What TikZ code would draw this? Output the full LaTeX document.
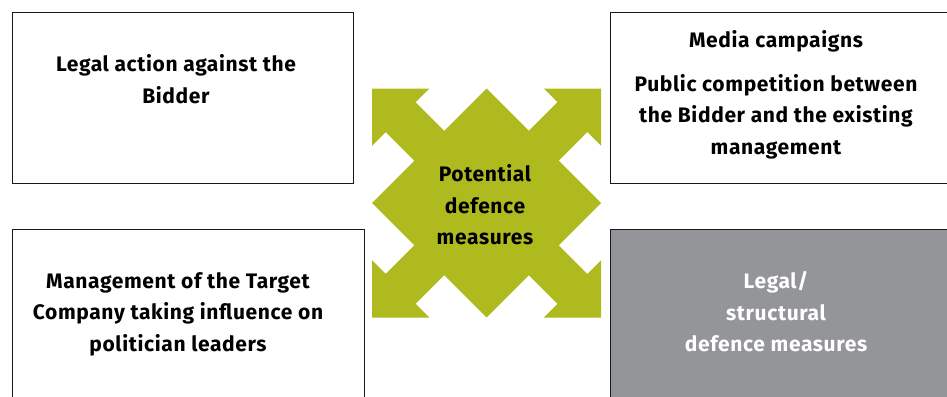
\documentclass[tikz,border=0pt]{standalone}
\usepackage{fontspec}
\setmainfont{Fira Sans}[LetterSpace=3]
\usetikzlibrary{positioning}

\definecolor{measgreen}{HTML}{AFBA1E}
\definecolor{measgrey}{HTML}{939598}

\begin{document}
\begin{tikzpicture}[x=1pt, y=-1pt,
      every node/.style={align=center, font=\bfseries\fontsize{21}{31.5}\selectfont},
      panel/.style={draw=black!90, line width=1.4pt, fill=white, inner sep=0pt, anchor=north west}]
  \clip (0,0) rectangle (947,396);
  % the four fields
  \node[panel, minimum width=341pt, minimum height=171pt] (action) at (12,12) {};
  \node[panel, minimum width=350pt, minimum height=171pt] (media) at (610,12) {};
  \node[panel, minimum width=352pt, minimum height=180pt] (politics) at (12,229) {};
  \node[panel, fill=measgrey, minimum width=350pt, minimum height=180pt] (structure) at (610,229) {};
  % cross of four arrows in the middle
  \coordinate (hub) at (486.5,203);
  \begin{scope}[shift={(hub)}, x=114.5pt, y=114.5pt]
    \fill[measgreen] (-1,1) \foreach \a in {0,-90,-180,-270} {
        -- ([rotate=\a]-0.5,1) -- ([rotate=\a]-0.62,0.88) -- ([rotate=\a]-0.37,0.63)
        -- ([rotate=\a]0,1) -- ([rotate=\a]0.37,0.63) -- ([rotate=\a]0.62,0.88)
        -- ([rotate=\a]0.5,1) -- ([rotate=\a]1,1)} -- cycle;
  \end{scope}
  % texts
  \node (actiontext) at (176,79) {Legal action against the\\Bidder};
  \node (mediatext) at (776,95) {Media campaigns\\[12pt]Public competition between\\the Bidder and the existing\\management};
  \node (politicstext) at (178,314) {Management of the Target\\Company taking influence on\\politician leaders};
  \node[text=white] (structuretext) at (776,312) {Legal/\\structural\\defence measures};
  \node (hubtext) at (485,205) {Potential\\defence\\measures};
\end{tikzpicture}
\end{document}
